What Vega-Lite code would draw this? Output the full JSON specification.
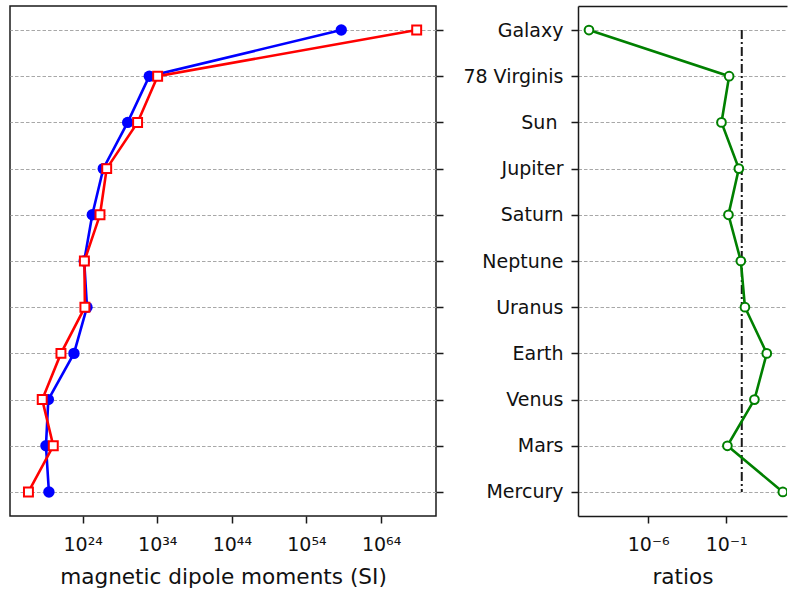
{
  "$schema": "https://vega.github.io/schema/vega-lite/v6.json",
  "padding": {"left": 9, "top": 5, "right": 0, "bottom": 0},
  "autosize": {"type": "pad"},
  "spacing": 11,
  "config": {
    "font": "DejaVu Sans",
    "view": {"stroke": "#1a1a1a", "strokeWidth": 1.5},
    "axis": {
      "labelFont": "DejaVu Sans",
      "titleFont": "DejaVu Sans",
      "labelColor": "#111111",
      "titleColor": "#111111",
      "tickColor": "#1a1a1a",
      "domainColor": "#1a1a1a",
      "tickWidth": 1.5,
      "domainWidth": 1.5,
      "tickSize": 7,
      "labelFontSize": 19,
      "titleFontSize": 21.6,
      "titleFontWeight": "normal",
      "labelFlush": false,
      "labelOverlap": false,
      "gridColor": "#a8a8a8",
      "gridDash": [3.5, 2],
      "gridWidth": 1,
      "gridOpacity": 1
    },
    "axisX": {"grid": false},
    "axisY": {"grid": true}
  },
  "datasets": {
    "moments": [
      {"object": "Galaxy", "measured": 4.6e58, "predicted": 5.9e68, "ratio": 1.6e-10},
      {"object": "78 Virginis", "measured": 8.5e32, "predicted": 1.12e34, "ratio": 0.155},
      {"object": "Sun", "measured": 1.07e30, "predicted": 2.3e31, "ratio": 0.05},
      {"object": "Jupiter", "measured": 5.8e26, "predicted": 1.66e27, "ratio": 0.65},
      {"object": "Saturn", "measured": 1.95e25, "predicted": 2.1e26, "ratio": 0.14},
      {"object": "Neptune", "measured": 1.6e24, "predicted": 1.7e24, "ratio": 0.87},
      {"object": "Uranus", "measured": 3.8e24, "predicted": 2.0e24, "ratio": 1.6},
      {"object": "Earth", "measured": 6.8e22, "predicted": 1.23e21, "ratio": 40},
      {"object": "Venus", "measured": 2.5e19, "predicted": 3.8e18, "ratio": 6.5},
      {"object": "Mars", "measured": 1.2e19, "predicted": 1.15e20, "ratio": 0.12},
      {"object": "Mercury", "measured": 3.0e19, "predicted": 5.4e16, "ratio": 430}
    ],
    "unity": [
      {"object": "Galaxy", "level": 1},
      {"object": "Mercury", "level": 1}
    ]
  },
  "hconcat": [
    {
      "width": 426,
      "height": 510,
      "data": {"name": "moments"},
      "encoding": {
        "y": {
          "field": "object",
          "type": "nominal",
          "scale": {
            "type": "point",
            "padding": 0.52,
            "domain": ["Galaxy", "78 Virginis", "Sun", "Jupiter", "Saturn", "Neptune", "Uranus", "Earth", "Venus", "Mars", "Mercury"]
          },
          "axis": {
            "orient": "right",
            "labels": false,
            "title": null,
            "domain": false,
            "minExtent": 10,
            "maxExtent": 10
          }
        },
        "order": {"value": null}
      },
      "layer": [
        {
          "mark": {"type": "line", "color": "#0000ff", "strokeWidth": 2.6},
          "encoding": {
            "x": {
              "field": "measured",
              "type": "quantitative",
              "scale": {"type": "log", "domain": [1.8197e14, 2.2909e71], "nice": false, "zero": false},
              "axis": {
                "orient": "bottom",
                "values": [1e24, 1e34, 1e44, 1e54, 1e64],
                "labelExpr": "round(log(datum.value)/LN10) == 24 ? '10²⁴' : round(log(datum.value)/LN10) == 34 ? '10³⁴' : round(log(datum.value)/LN10) == 44 ? '10⁴⁴' : round(log(datum.value)/LN10) == 54 ? '10⁵⁴' : '10⁶⁴'",
                "title": "magnetic dipole moments (SI)",
                "domain": false,
                "labelPadding": 12,
                "titlePadding": 12
              }
            }
          }
        },
        {
          "mark": {"type": "point", "shape": "circle", "filled": true, "color": "#0000ff", "size": 130, "opacity": 1},
          "encoding": {"x": {"field": "measured", "type": "quantitative"}}
        },
        {
          "mark": {"type": "line", "color": "#ff0000", "strokeWidth": 2.6},
          "encoding": {"x": {"field": "predicted", "type": "quantitative"}}
        },
        {
          "mark": {"type": "point", "shape": "square", "filled": true, "fill": "#ffffff", "stroke": "#ff0000", "strokeWidth": 2, "size": 80, "opacity": 1},
          "encoding": {"x": {"field": "predicted", "type": "quantitative"}}
        }
      ]
    },
    {
      "width": 209,
      "height": 510,
      "view": {"stroke": null},
      "resolve": {"axis": {"x": "independent"}},
      "encoding": {
        "y": {
          "field": "object",
          "type": "nominal",
          "scale": {
            "type": "point",
            "padding": 0.52,
            "domain": ["Galaxy", "78 Virginis", "Sun", "Jupiter", "Saturn", "Neptune", "Uranus", "Earth", "Venus", "Mars", "Mercury"]
          },
          "axis": {
            "orient": "left",
            "title": null,
            "domain": true,
            "labelPadding": 8,
            "labelExpr": "datum.value == 'Sun' ? 'Sun\u00a0\u200b' : datum.value",
            "minExtent": 120,
            "maxExtent": 120
          }
        },
        "order": {"value": null}
      },
      "layer": [
        {
          "data": {"name": "unity"},
          "mark": {"type": "line", "color": "#1a1a1a", "strokeWidth": 2, "strokeDash": [9, 3, 2, 3]},
          "encoding": {
            "x": {
              "field": "level",
              "type": "quantitative",
              "scale": {"type": "log", "domain": [3.1623e-11, 794.3], "nice": false, "zero": false},
              "axis": {
                "orient": "top",
                "ticks": false,
                "labels": false,
                "title": null,
                "domain": true,
                "minExtent": 0,
                "maxExtent": 0
              }
            }
          }
        },
        {
          "data": {"name": "moments"},
          "mark": {"type": "line", "color": "#008000", "strokeWidth": 2.6},
          "encoding": {
            "x": {
              "field": "ratio",
              "type": "quantitative",
              "axis": {
                "orient": "bottom",
                "values": [1e-6, 1e-1],
                "labelExpr": "round(log(datum.value)/LN10) == -6 ? '10⁻⁶' : '10⁻¹'",
                "title": "ratios",
                "domain": true,
                "labelPadding": 12,
                "titlePadding": 12
              }
            }
          }
        },
        {
          "data": {"name": "moments"},
          "mark": {"type": "point", "shape": "circle", "filled": true, "fill": "#ffffff", "stroke": "#008000", "strokeWidth": 2, "size": 76, "opacity": 1, "clip": true},
          "encoding": {"x": {"field": "ratio", "type": "quantitative", "axis": null}}
        }
      ]
    }
  ]
}
